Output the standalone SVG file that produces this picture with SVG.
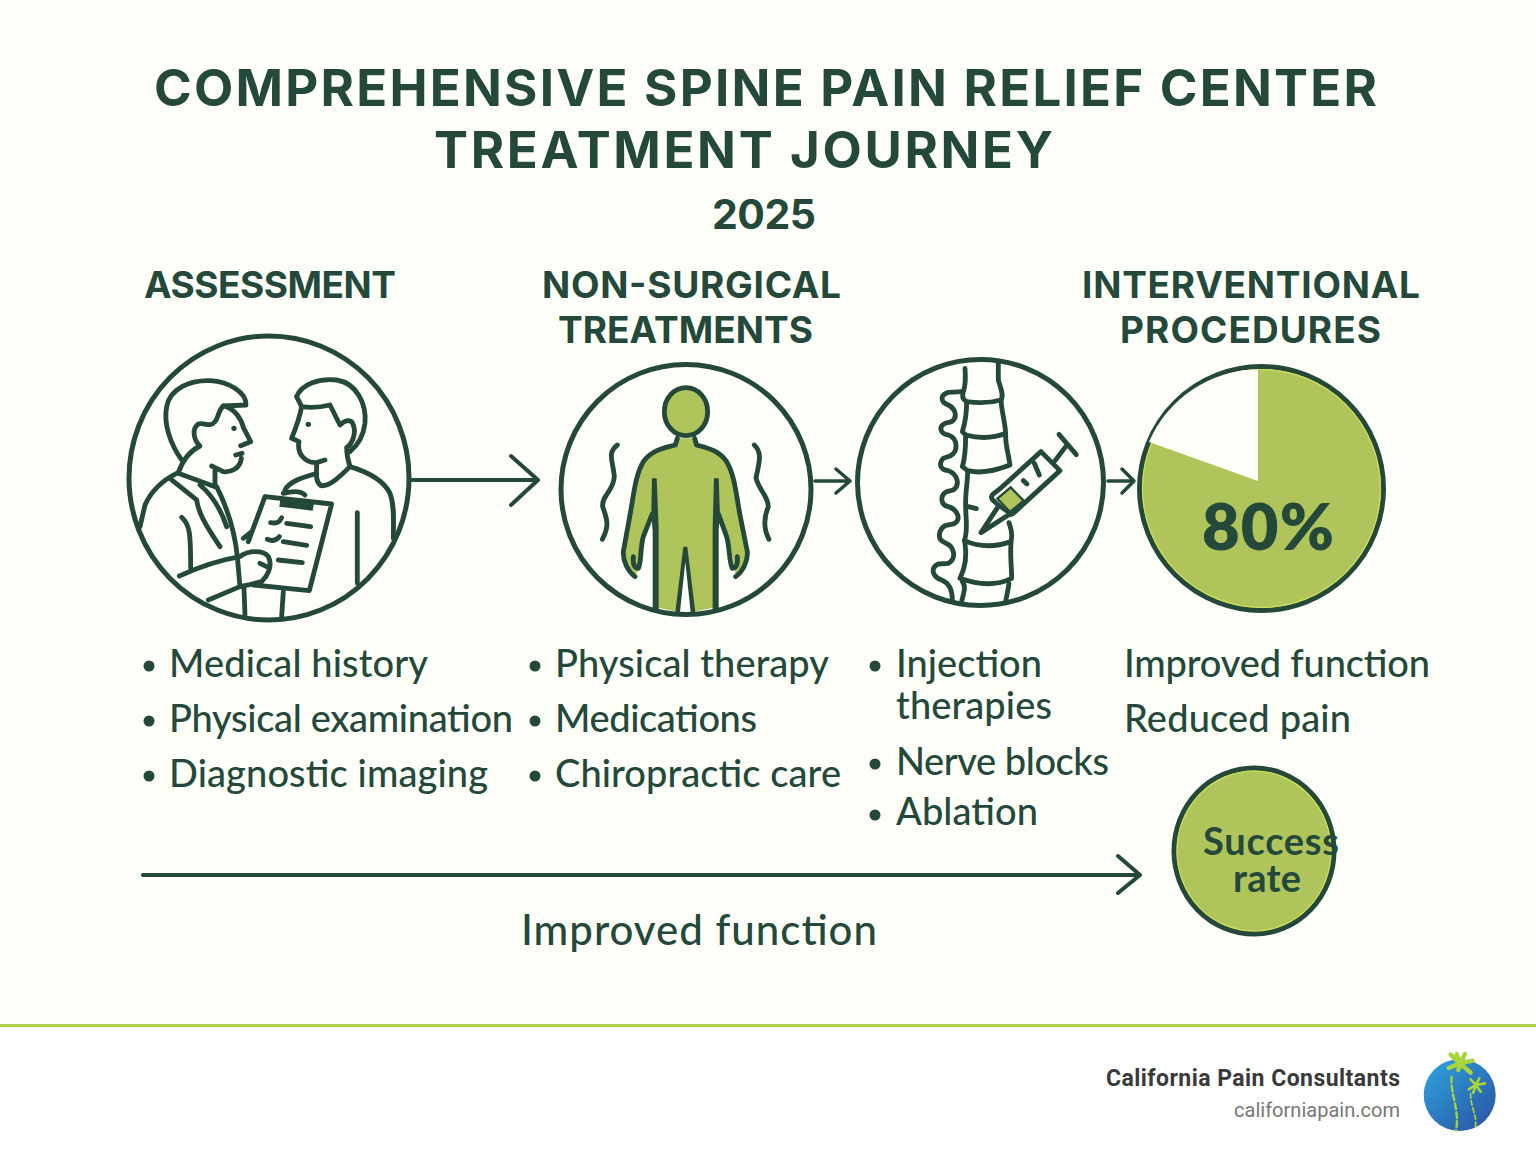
<svg xmlns="http://www.w3.org/2000/svg" width="1536" height="1154" viewBox="0 0 1536 1154">
<style>
.t{font-family:"Lato","Liberation Sans",sans-serif;fill:#24493b;font-weight:500}
.h{font-family:"Inter","Liberation Sans",sans-serif;font-weight:700;fill:#24493b}
.b{font-size:38px}
.hd{font-size:37px}
.ln{fill:none;stroke:#24493b;stroke-linecap:round;stroke-linejoin:round}
.z{fill:none;stroke:#24493b;stroke-width:14.500;stroke-linecap:round;stroke-linejoin:round}
.ring{fill:#fffffa;stroke:#24493b;stroke-width:5}
.dot{fill:#24493b}
.halo{fill:none;stroke:#cfe05a;stroke-width:1.200}
</style>
<defs>
<linearGradient id="g" x1="0" y1="0" x2="1" y2="1"><stop offset="0" stop-color="#2ea6e0"/><stop offset="1" stop-color="#2a4f9f"/></linearGradient>
</defs>
<rect width="1536" height="1154" fill="#fffffa"/>
<rect y="1026" width="1536" height="128" fill="#fff"/>
<rect y="1024" width="1536" height="3" fill="#a9d14a"/>
<g id="title">
<text class="h" x="154" y="106" font-size="51" font-weight="800" textLength="1223">COMPREHENSIVE SPINE PAIN RELIEF CENTER</text>
<text class="h" x="434" y="168" font-size="51" font-weight="800" textLength="619">TREATMENT JOURNEY</text>
<text class="h" x="712" y="229" font-size="41" font-weight="600" textLength="104">2025</text>
</g>
<g id="connectors">
<path class="ln" stroke-width="4" d="M412 480H538M511 456L538 480L511 505"/>
<path class="ln" stroke-width="3.500" d="M815 481H850M836 469L850 481L836 493"/>
<path class="ln" stroke-width="3.500" d="M1108 481H1134M1122 469L1134 481L1122 493"/>
<path class="ln" stroke-width="4" d="M143 875H1140M1118 856L1140 875L1118 893"/>
<text class="t" x="521" y="945" font-size="42" textLength="356">Improved function</text>
</g>
<g id="assessment">
<text class="h hd" x="144" y="298" textLength="252">ASSESSMENT</text>
<ellipse class="ring" cx="269" cy="478" rx="140" ry="142"/>
<g transform="translate(120 330) scale(.3333)">
<path class="z" d="M185 390C150 340 130 280 140 230C150 175 210 150 270 152C330 155 380 190 378 225L310 228C295 240 295 265 285 275C270 295 250 275 235 282C215 295 220 330 240 348C215 360 190 385 175 428"/>
<path class="z" d="M310 228C345 235 365 270 370 292L392 335L362 347M347 375L366 370M364 385C360 415 335 428 310 425L275 408M285 420V465"/>
<circle cx="342" cy="295" r="8" fill="#24493b"/>
<path class="z" d="M170 430C130 450 95 480 75 525L60 590M175 430L285 470M155 450L230 510C235 545 250 575 300 650M240 465C270 490 300 530 320 590M290 470C325 540 345 610 352 680L360 770"/>
<path class="z" d="M185 562C210 585 212 610 212 715M178 738C240 710 300 690 360 680C385 660 430 660 445 680C460 710 440 740 425 755L385 765L360 770L265 810M420 700L440 710"/>
<path class="z" d="M435 500L635 522L568 782L400 765M435 500L385 635M370 625L395 605"/>
<path d="M482 500L582 520L578 542L478 530Z" fill="#24493b"/>
<path class="z" d="M490 490C510 485 540 480 555 495"/>
<path class="z" d="M452 578C470 582 480 575 485 563M500 580L572 590M442 628C460 636 470 630 478 620M490 635L560 646M475 690L547 698M372 775L375 855M490 785L485 860"/>
<path class="z" d="M530 200C545 160 600 145 650 150C710 160 740 220 735 280C730 320 715 345 690 365M530 200L545 230C580 235 610 230 630 225L660 285C675 270 695 265 700 285C710 310 695 345 680 352C680 375 685 395 690 410"/>
<path class="z" d="M545 230C540 260 525 300 515 325L537 335C530 370 555 400 590 398L615 390M590 400C590 430 585 455 603 467C625 470 650 450 690 410M590 430C560 440 510 450 495 480M690 410C740 425 790 450 810 490C825 530 820 580 820 625M712 548V760"/>
<circle cx="565" cy="283" r="8" fill="#24493b"/>
</g>
<circle class="dot" cx="149" cy="666" r="5.500"/><circle class="dot" cx="149" cy="721" r="5.500"/><circle class="dot" cx="149" cy="776" r="5.500"/>
<text class="t b" x="169" y="677" textLength="259">Medical history</text>
<text class="t b" x="169" y="732" textLength="344">Physical examination</text>
<text class="t b" x="169" y="787" textLength="319">Diagnostic imaging</text>
</g>
<g id="non-surgical">
<text class="h hd" x="542" y="298" textLength="299">NON-SURGICAL</text>
<text class="h hd" x="558" y="343" textLength="255">TREATMENTS</text>
<circle class="ring" cx="686" cy="489.500" r="125"/>
<g transform="translate(550 355) scale(.3333)">
<path d="M382 250L376 270C340 280 305 285 280 320C255 360 250 430 240 480L220 590C218 620 235 650 255 665L268 640L280 550L305 480L312 520V755L380 770L405 575L430 770L505 755V520L512 480C530 520 545 570 552 640L560 665C580 650 595 620 590 590L570 480C560 430 555 360 530 320C505 285 475 280 440 270L434 250Z" fill="#afc45a"/>
<ellipse cx="408" cy="170" rx="65" ry="72" fill="#afc45a" stroke="#24493b" stroke-width="14.500"/>
<path class="z" d="M382 250L376 270C340 280 305 285 280 320C255 360 250 430 240 480L220 590C218 620 235 650 255 665M250 605C248 625 252 640 265 640C275 620 270 580 280 545L306 478"/>
<path class="z" d="M434 250L440 270C475 280 505 285 530 320C555 360 560 430 570 480L592 590C594 620 578 650 557 665M562 605C564 625 560 640 547 640C537 620 540 580 530 545L506 478"/>
<path d="M306 370H320L326 520V762H308V525L304 482Z" fill="#24493b"/>
<path d="M492 370H506L510 482L506 525V762H488V520Z" fill="#24493b"/>
<path d="M400 575H412L436 772H422L406 620L390 772H376Z" fill="#24493b"/>
<path class="z" d="M202 270C170 295 190 320 193 365C190 410 155 420 158 455C170 490 180 510 157 553"/>
<path class="z" d="M613 270C640 295 625 330 618 370C630 410 655 425 655 455C640 490 640 520 657 553"/>
</g>
<circle class="dot" cx="535" cy="666" r="5.500"/><circle class="dot" cx="535" cy="721" r="5.500"/><circle class="dot" cx="535" cy="776" r="5.500"/>
<text class="t b" x="555" y="677" textLength="274">Physical therapy</text>
<text class="t b" x="555" y="732" textLength="202">Medications</text>
<text class="t b" x="555" y="787" textLength="286">Chiropractic care</text>
</g>
<g id="injection">
<circle class="ring" cx="980.500" cy="482.500" r="123"/>
<g transform="translate(845 350) scale(.3333)">
<path class="z" d="M360 55C362 80 362 105 355 125C350 140 355 150 365 155C400 160 440 158 468 150C478 135 465 110 460 90V40"/>
<path class="z" d="M365 155C365 190 360 220 352 245L362 255C400 265 445 265 482 250C480 215 470 185 468 150"/>
<path class="z" d="M362 255C362 290 362 320 352 350L368 362C410 372 450 362 495 345C490 310 480 280 482 250"/>
<path class="z" d="M368 365C368 400 360 430 362 470C362 510 370 540 358 572C400 590 450 592 498 575C505 545 495 530 492 518M370 470L394 476"/>
<path class="z" d="M360 580C365 610 362 650 345 685C400 705 450 710 500 685C500 650 495 620 498 578"/>
<path class="z" d="M352 695C365 710 355 730 350 755M492 700C490 720 485 735 482 755"/>
<path class="z" d="M350 125L310 127C285 135 285 155 310 165C330 175 340 200 320 215L300 220C280 230 285 250 310 255C340 265 340 305 315 318L295 325C280 340 285 360 310 362C340 375 345 405 325 420L305 425C285 435 285 465 310 470C340 480 350 510 325 522L300 527C280 540 275 570 300 578C330 590 335 625 310 640L280 642C255 655 262 680 290 690C315 700 322 725 322 750"/>
<path class="z" style="fill:#fffffa" d="M470 412L588 305L645 362L505 490Q495 498 485 488L443 450Q435 440 445 432Z"/>
<path class="z" style="fill:#fffffa" d="M458 472L408 548L490 495"/>
<path d="M457 446L497 412L536 452L495 486Z" fill="#afc45a" stroke="#24493b" stroke-width="7"/>
<path class="z" d="M628 335L662 290M642 253L694 314M568 340L583 375M535 392L546 402"/>
</g>
<circle class="dot" cx="875" cy="666" r="5.500"/><circle class="dot" cx="875" cy="764" r="5.500"/><circle class="dot" cx="875" cy="815" r="5.500"/>
<text class="t b" x="896" y="677" textLength="146">Injection</text>
<text class="t b" x="896" y="719" textLength="156">therapies</text>
<text class="t b" x="896" y="775" textLength="213">Nerve blocks</text>
<text class="t b" x="896" y="825" textLength="142">Ablation</text>
</g>
<g id="interventional">
<text class="h hd" x="1082" y="298" textLength="338">INTERVENTIONAL</text>
<text class="h hd" x="1120" y="343" textLength="261">PROCEDURES</text>
<circle cx="1261.500" cy="488.500" r="122" fill="#afc45a" stroke="#24493b" stroke-width="5"/>
<circle class="halo" cx="1261.500" cy="488.500" r="119"/>
<path d="M1258 481V369.500A119 119 0 0 0 1149 442Z" fill="#fffffa"/>
<text x="1202" y="550" font-family="Lato,'Liberation Sans',sans-serif" font-weight="800" fill="#24493b" font-size="65" textLength="132">80%</text>
<text class="t b" x="1124" y="677" textLength="306">Improved function</text>
<text class="t b" x="1124" y="732" textLength="227">Reduced pain</text>
</g>
<g id="success">
<ellipse cx="1254" cy="851" rx="80" ry="83" fill="#afc45a" stroke="#24493b" stroke-width="5"/>
<ellipse class="halo" cx="1254" cy="851" rx="77" ry="80"/>
<text class="t" x="1203" y="855" font-size="38" style="font-weight:700" textLength="136">Success</text>
<text class="t" x="1233" y="892" font-size="38" style="font-weight:700" textLength="68">rate</text>
</g>
<g id="footer">
<text x="1106" y="1086" font-family="Roboto,'Liberation Sans',sans-serif" font-weight="700" font-size="23" fill="#3a3a3a" textLength="294">California Pain Consultants</text>
<text x="1234" y="1117" font-family="Roboto,'Liberation Sans',sans-serif" font-size="20" fill="#777" textLength="166">californiapain.com</text>
<circle cx="1459.700" cy="1095" r="36" fill="url(#g)"/>
<g transform="translate(1090 1040) scale(.3333)" fill="none" stroke="#a8d43c" stroke-linecap="round">
<path stroke-width="7" stroke-dasharray="18 9" d="M1085 110C1080 160 1110 210 1098 272"/>
<path stroke-width="5" stroke-dasharray="14 8" d="M1142 160C1140 200 1165 230 1155 265"/>
<g stroke-width="13"><path d="M1110 70L1082 44M1110 70L1125 42M1110 70L1148 62M1110 70L1076 84M1110 70L1142 98M1110 70L1100 42M1110 70L1105 90"/></g>
<g stroke-width="8"><path d="M1158 135L1142 118M1158 135L1168 115M1158 135L1185 130M1158 135L1136 148M1158 135L1172 155M1158 135L1150 158"/></g>
</g>
</g>
</svg>
